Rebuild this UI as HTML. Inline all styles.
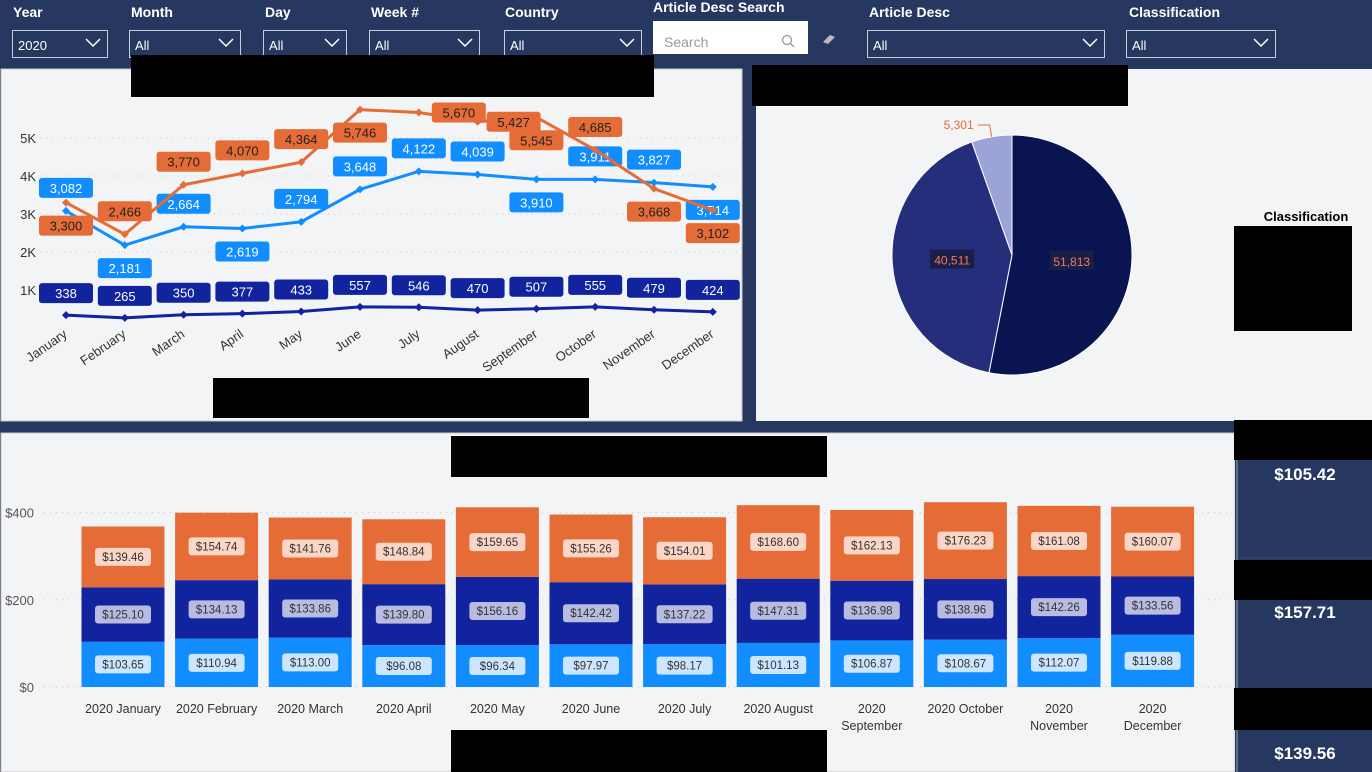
<!DOCTYPE html>
<html><head><meta charset="utf-8"><style>
body{margin:0;width:1372px;height:772px;overflow:hidden;background:#263860;font-family:"Liberation Sans",sans-serif}
svg{display:block}
text{font-family:"Liberation Sans",sans-serif}
</style></head><body>
<svg id="s" width="1372" height="772" xmlns="http://www.w3.org/2000/svg">
<rect x="0" y="0" width="1372" height="772" fill="#263860"/>
<rect x="1" y="69" width="741" height="352" fill="#f3f4f6" stroke="#c8c8c8"/>
<rect x="756" y="69" width="616" height="352" fill="#f3f4f6"/>
<rect x="1" y="433" width="1234" height="339" fill="#f3f4f6" stroke="#c8c8c8"/>
<rect x="1235" y="420" width="137" height="352" fill="#263860"/>
<line x1="1237" y1="420" x2="1237" y2="772" stroke="#9aa3b5" stroke-width="1"/>
<g id="filters"></g>
<g id="line"></g>
<g id="pie"></g>
<g id="bar"></g>
<g id="cards"></g>
<g id="masks"></g>
<text x="1306" y="221" text-anchor="middle" font-size="13" font-weight="bold" fill="#000">Classification</text>
</svg>
<script>
const NS='http://www.w3.org/2000/svg';
function mk(tag,attrs,parent,txt){const e=document.createElementNS(NS,tag);for(const k in attrs)e.setAttribute(k,attrs[k]);if(txt!==undefined)e.textContent=txt;parent.appendChild(e);return e;}
const $=id=>document.getElementById(id);

// ---------- line chart data ----------
const months=['January','February','March','April','May','June','July','August','September','October','November','December'];
const orangeVals=[3300,2466,3770,4070,4364,5746,5670,5427,5545,4685,3668,3102];
const blueVals=[3082,2181,2664,2619,2794,3648,4122,4039,3910,3911,3827,3714];
const navyVals=[338,265,350,377,433,557,546,470,507,555,479,424];
const yTicks=[1000,2000,3000,4000,5000];
const yTickLabels=['1K','2K','3K','4K','5K'];
const orangeSide=[1,-1,-1,-1,-1,1,0,0,1,-1,1,1];
const orangeShift=[0,0,0,0,0,0,40,36,0,0,0,0];
const blueSide=[-1,1,-1,1,-1,-1,-1,-1,1,-1,-1,1];

// ---------- bar chart data ----------
const barCats=['2020 January','2020 February','2020 March','2020 April','2020 May','2020 June','2020 July','2020 August','2020 September','2020 October','2020 November','2020 December'];
const barLight=[103.65,110.94,113.00,96.08,96.34,97.97,98.17,101.13,106.87,108.67,112.07,119.88];
const barNavy=[125.10,134.13,133.86,139.80,156.16,142.42,137.22,147.31,136.98,138.96,142.26,133.56];
const barOrange=[139.46,154.74,141.76,148.84,159.65,155.26,154.01,168.60,162.13,176.23,161.08,160.07];
const barTicks=[0,200,400];

// ---------- pie data ----------
const pieVals=[51813,40511,5301];
const pieLabels=['51,813','40,511','5,301'];
const cardVals=['$105.42','$157.71','$139.56'];

const C={o:'#e66c37',b:'#118dff',n:'#12239e'};
const fmt=v=>v.toLocaleString('en-US');

// filters
(function(){
  const g=$('filters');
  const f=[['Year','2020',13,12,107],['Month','All',131,129,240],['Day','All',265,263,346],['Week #','All',371,369,479],['Country','All',505,504,641],['Article Desc','All',869,867,1104],['Classification','All',1129,1126,1275]];
  f.forEach(d=>{
    const t=mk('text',{x:d[2],y:17,'font-size':14,'font-weight':'bold',fill:'#fff'},g,d[0]);
    
    
    const r=mk('rect',{x:d[3]+.5,y:30.5,width:d[4]-d[3],height:27,fill:'none',stroke:'#c8cdd8'},g);
    
    
    mk('text',{x:d[3]+6,y:50,'font-size':13,fill:'#fff'},g,d[1]);
    const cx=d[4]-14;
    mk('path',{d:`M${cx-7} 39 L${cx} 46 L${cx+7} 39`,fill:'none',stroke:'#fff','stroke-width':1.5},g);
  });
  mk('text',{x:653,y:12,'font-size':14,'font-weight':'bold',fill:'#fff'},g,'Article Desc Search');
  const sb=mk('rect',{x:653,y:21,width:155,height:33,fill:'#fff'},g);
  
  
  mk('text',{x:664,y:47,'font-size':14,fill:'#999'},g,'Search');
  mk('circle',{cx:787,cy:40,r:4.5,fill:'none',stroke:'#999','stroke-width':1.3},g);
  mk('line',{x1:790,y1:43,x2:794,y2:47,stroke:'#999','stroke-width':1.3},g);
  const er=mk('path',{d:'M823 42 L830 35 L835 37 L828 44 Z',fill:'#bbb'},g);
  
  
})();

// line chart
(function(){
  const g=$('line');
  const x0=66,dx=58.8;
  const X=i=>x0+i*dx, Y=v=>328-v*0.038;
  yTicks.forEach((t,i)=>{
    mk('line',{x1:40,y1:Y(t),x2:740,y2:Y(t),stroke:'#c8c8c8','stroke-dasharray':'1 5'},g);
    const tl=mk('text',{x:36,y:Y(t)+5,'font-size':13,fill:'#333','text-anchor':'end'},g,yTickLabels[i]);
    
    
  });
  months.forEach((m,i)=>{
    const t=mk('text',{x:X(i)+2,y:336,'font-size':13,fill:'#333','text-anchor':'end',transform:`rotate(-35 ${X(i)+2} 336)`},g,m);
    
    
  });
  function series(vals,col,name,sides,shifts,txtCol,lw){
    const pts=vals.map((v,i)=>[X(i),Y(v)]);
    const p=mk('polyline',{points:pts.map(p=>p.join(',')).join(' '),fill:'none',stroke:col,'stroke-width':lw},g);
    
    
    pts.forEach(([x,y])=>mk('path',{d:`M${x} ${y-4} L${x+4} ${y} L${x} ${y+4} L${x-4} ${y}Z`,fill:col},g));
    vals.forEach((v,i)=>{
      const ly=sides?pts[i][1]+sides[i]*23:pts[i][1]-22;
      const lx=pts[i][0]+(shifts?shifts[i]:0);
      const r=mk('rect',{x:lx-27,y:ly-10,width:54,height:20,rx:3,fill:col},g);
      
      
      mk('text',{x:lx,y:ly+5,'font-size':13,fill:txtCol,'text-anchor':'middle'},g,fmt(v));
    });
  }
  series(navyVals,C.n,'navy-series',null,null,'#fff',3);
  series(blueVals,C.b,'blue-series',blueSide,null,'#fff',3);
  series(orangeVals,C.o,'orange-series',orangeSide,orangeShift,'#222',3);
})();

// pie
(function(){
  const g=$('pie');
  const cx=1012,cy=255,r=120;
  const cols=['#0a1450','#242e7a','#9ba3d8'];
  const tot=pieVals.reduce((a,b)=>a+b,0);
  let a=-Math.PI/2;
  pieVals.forEach((v,i)=>{
    const da=v/tot*2*Math.PI,a2=a+da;
    const p=mk('path',{d:`M${cx} ${cy} L${cx+r*Math.cos(a)} ${cy+r*Math.sin(a)} A${r} ${r} 0 ${da>Math.PI?1:0} 1 ${cx+r*Math.cos(a2)} ${cy+r*Math.sin(a2)}Z`,fill:cols[i],stroke:'#fff','stroke-width':1},g);
    
    
    const m=(a+a2)/2;
    if(i<2){
      const lx=cx+r*0.5*Math.cos(m),ly=cy+r*0.5*Math.sin(m);
      mk('rect',{x:lx-22,y:ly-10,width:44,height:19,fill:'#1a1f4a'},g);
      mk('text',{x:lx,y:ly+5,'font-size':12,fill:'#f07a50','text-anchor':'middle'},g,pieLabels[i]);
    }else{
      const ex=cx+r*Math.cos(m),ey=cy+r*Math.sin(m);
      mk('polyline',{points:`${ex},${ey} ${ex-2},${cy-r-10} ${ex-14},${cy-r-10}`,fill:'none',stroke:'#e66c37'},g);
      mk('text',{x:ex-18,y:cy-r-6,'font-size':12,fill:'#e66c37','text-anchor':'end'},g,pieLabels[i]);
    }
    a=a2;
  });
})();

// bars
(function(){
  const g=$('bar');
  const x0=123,dx=93.6,bw=83;
  const Y=v=>687-v*0.436;
  const wrapIdx=[8,10,11];
  barTicks.forEach(t=>{
    mk('line',{x1:44,y1:Y(t),x2:1232,y2:Y(t),stroke:'#c8c8c8','stroke-dasharray':'1 5'},g);
    const tl=mk('text',{x:34,y:Y(t)+5,'font-size':13,fill:'#555','text-anchor':'end'},g,'$'+t);
    
    
  });
  const segs=[[barLight,C.b,'#cde6ff'],[barNavy,C.n,'#b8bce0'],[barOrange,C.o,'#fbd6c6']];
  barCats.forEach((c,i)=>{
    const x=x0+i*dx;let base=0;
    segs.forEach(([arr,col,lc],k)=>{
      const v=arr[i];
      const r=mk('rect',{x:x-bw/2,y:Y(base+v),width:bw,height:v*0.436,fill:col},g);
      
      
      const my=Y(base+v/2);
      mk('rect',{x:x-28,y:my-9,width:56,height:18,rx:3,fill:lc},g);
      mk('text',{x:x,y:my+4,'font-size':11.5,fill:'#333','text-anchor':'middle'},g,'$'+v.toFixed(2));
      base+=v;
    });
    if(wrapIdx.indexOf(i)>=0){
      const parts=c.split(' ');
      mk('text',{x:x,y:713,'font-size':12.5,fill:'#333','text-anchor':'middle'},g,parts[0]);
      mk('text',{x:x,y:730,'font-size':12.5,fill:'#333','text-anchor':'middle'},g,parts[1]);
    }else{
      const t=mk('text',{x:x,y:713,'font-size':12.5,fill:'#333','text-anchor':'middle'},g,c);
      
      
    }
  });
})();

// cards
(function(){
  const g=$('cards');const ys=[480,618,759];
  cardVals.forEach((v,i)=>{
    const t=mk('text',{x:1305,y:ys[i],'font-size':17,'font-weight':'bold',fill:'#fff','text-anchor':'middle'},g,v);
    
    
  });
  mk('line',{x1:1238,y1:558,x2:1372,y2:558,stroke:'#35477a'},g);
})();

// redactions
(function(){
  const g=$('masks');
  [[131,55,523,42],[752,65,376,41],[213,378,376,40],[451,436,376,41],[451,730,376,42],[1234,226,118,105],[1234,420,138,40],[1234,560,138,40],[1234,688,138,42]].forEach(b=>{
    const r=mk('rect',{x:b[0],y:b[1],width:b[2],height:b[3],fill:'#000'},g);
    
    
  });
})();
</script>
</body></html>
